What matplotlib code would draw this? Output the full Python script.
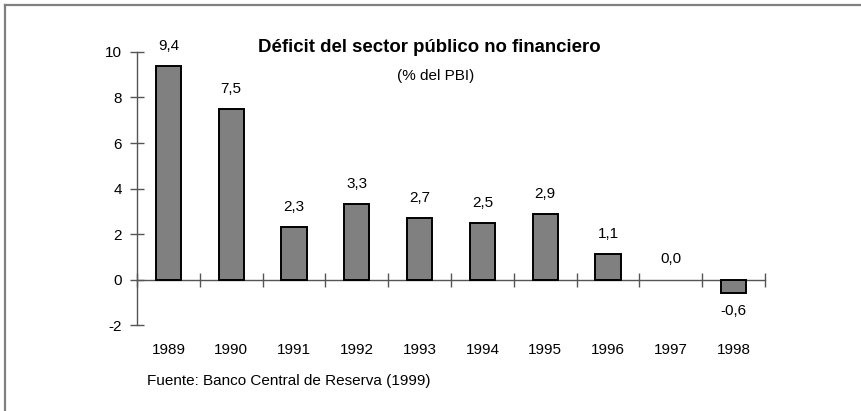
import matplotlib
matplotlib.use("Agg")
from matplotlib import pyplot as plt
from matplotlib.lines import Line2D
import numpy as np

plt.rcParams['font.family'] = ['Liberation Sans', 'DejaVu Sans']
plt.rcParams['axes.unicode_minus'] = False

years = ['1989', '1990', '1991', '1992', '1993', '1994', '1995', '1996', '1997', '1998']
deficit = [9.4, 7.5, 2.3, 3.3, 2.7, 2.5, 2.9, 1.1, 0.0, -0.6]
labels = ['9,4', '7,5', '2,3', '3,3', '2,7', '2,5', '2,9', '1,1', '0,0', '-0,6']

fs = 11

fig = plt.figure(figsize=(8.61, 4.11), dpi=100)
ax = fig.add_axes([0.1591, 0.2092, 0.7294, 0.6643])

x = np.arange(len(years)) + 0.5
edges = ['black' if v != 0 else 'none' for v in deficit]
ax.bar(x, deficit, width=0.4, color='#808080', edgecolor=edges, linewidth=1.4, zorder=3)

ax.set_xlim(0, len(years))
ax.set_ylim(-2, 10)
ax.set_yticks(np.arange(-2, 11, 2))
ax.set_xticks(np.arange(0, len(years) + 1))
ax.set_xticklabels([])

for s in ['top', 'right']:
    ax.spines[s].set_visible(False)
ax.spines['bottom'].set_position(('data', 0))
for s in ['left', 'bottom']:
    ax.spines[s].set_color('#555555')
    ax.spines[s].set_linewidth(1.0)
ax.tick_params(axis='both', direction='inout', length=10, width=1.0, color='#555555',
               labelsize=fs, pad=6)

for xi, v, lab in zip(x, deficit, labels):
    if v < 0:
        ax.text(xi, v - 0.8, lab, ha='center', va='center', fontsize=fs)
    else:
        ax.text(xi, v + 0.88, lab, ha='center', va='center', fontsize=fs)

for xi, yr in zip(x, years):
    ax.text(xi, -3.08, yr, ha='center', va='center', fontsize=fs, clip_on=False)

fig.text(429 / 861, 1 - 47.5 / 411, 'Déficit del sector público no financiero', ha='center', va='center',
         fontsize=13.4, fontweight='bold')
fig.text(436 / 861, 1 - 76 / 411, '(% del PBI)', ha='center', va='center', fontsize=fs)
fig.text(147 / 861, 1 - 381 / 411, 'Fuente: Banco Central de Reserva (1999)', ha='left', va='center', fontsize=fs)

# marco gris arriba y a la izquierda
top = 1 - 5.5 / 411
left = 4.5 / 861
fig.add_artist(Line2D([left, 1], [top, top], transform=fig.transFigure, color='#808080', linewidth=1.6))
fig.add_artist(Line2D([left, left], [0, top], transform=fig.transFigure, color='#808080', linewidth=1.6))

fig.savefig('out.png', dpi=100)
